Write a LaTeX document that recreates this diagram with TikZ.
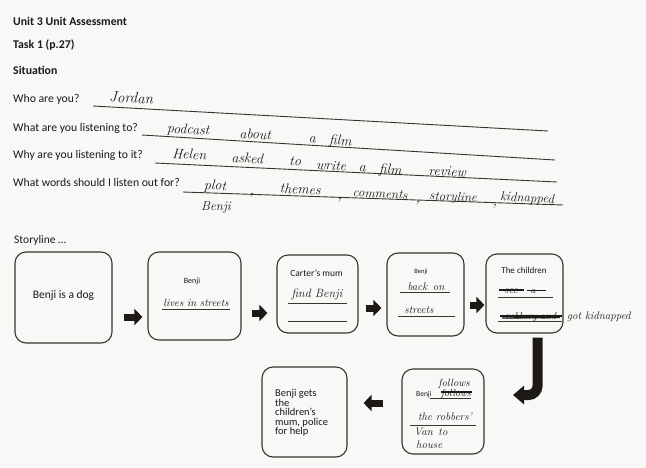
\documentclass[tikz,border=0pt]{standalone}
\usepackage{fontspec}
\setsansfont{Carlito}
\usetikzlibrary{arrows.meta,calc}
\definecolor{ink}{HTML}{1C1917}
\definecolor{pen}{HTML}{3B332D}
\definecolor{paper}{HTML}{F8F8F7}
\begin{document}
\begin{tikzpicture}[x=1pt,y=-1pt,
  prt/.style={font=\sffamily\fontsize{#1}{#1}\selectfont, text=ink, inner sep=0pt, anchor=base west},
  prtc/.style={prt=#1, anchor=base},
  hdr/.style={prt=11.5, font=\sffamily\bfseries\fontsize{11.8}{11.8}\selectfont},
  hw/.style={font=\rmfamily\itshape\fontsize{#1}{#1}\selectfont, text=ink, inner sep=0pt, anchor=base, rotate=-3},
  hwb/.style={font=\rmfamily\itshape\fontsize{#1}{#1}\selectfont, text=ink, inner sep=0pt, anchor=base},
  rule/.style={draw=pen, line width=0.9pt},
  strike/.style={draw=ink, line width=1.3pt},
  card/.style n args={2}{draw=pen, line width=1.1pt, rounded corners=11pt, minimum width=#1, minimum height=#2, inner sep=0pt},
  blk/.style={draw=ink, line width=7pt, -{Triangle[length=8pt,width=16pt]}},
  bent/.style={draw=ink, line width=10pt, rounded corners=9pt, -{Triangle[length=11pt,width=18pt]}}
]
\fill[paper] (0,0) rectangle (646,467);
\useasboundingbox (0,0) rectangle (646,467);

% header
\node[hdr] (h1) at (13,25) {Unit 3 Unit Assessment};
\node[hdr] (h2) at (13,48) {Task 1 (p.27)};
\node[hdr] (h3) at (13,74) {Situation};
\node[prt=11.7] (q1) at (13,102) {Who are you?};
\node[prt=11.7] (q2) at (13,131) {What are you listening to?};
\node[prt=11.7] (q3) at (13,158) {Why are you listening to it?};
\node[prt=11.7] (q4) at (13,186) {What words should I listen out for?};

% answer lines
\coordinate (l1a) at (93,106);  \coordinate (l1b) at (548,131);
\coordinate (l2a) at (142,135); \coordinate (l2b) at (555,160);
\coordinate (l3a) at (155,163); \coordinate (l3b) at (557,182);
\coordinate (l4a) at (183,192); \coordinate (l4b) at (563,205);
\draw[rule] (l1a) -- (l1b);
\draw[rule] (l2a) -- (l2b);
\draw[rule] (l3a) -- (l3b);
\draw[rule] (l4a) -- (l4b);

% handwritten answers
\node[hw=15] (w1) at (131,103) {Jordan};
\node[hw=14] (w2) at (188,134) {podcast};
\node[hw=14] (w3) at (255,139) {about};
\node[hw=14] (w4) at (312,143) {a};
\node[hw=14] (w5) at (340,145) {film};
\node[hw=14] (w6) at (189,159) {Helen};
\node[hw=14] (w7) at (247,163) {asked};
\node[hw=14] (w8) at (295,166) {to};
\node[hw=14] (w9) at (331,170) {write};
\node[hw=14] (w10) at (362,172) {a};
\node[hw=14] (w11) at (390,174) {film};
\node[hw=14] (w12) at (447,176) {review};
\node[hw=14] (w13) at (215,190) {plot};
\node[hw=14] (w14) at (252,195) {,};
\node[hw=14] (w15) at (300,194) {themes};
\node[hw=14] (w16) at (340,200) {,};
\node[hw=13] (w17) at (380,198) {comments};
\node[hw=14] (w18) at (418,203) {,};
\node[hw=13] (w19) at (453,201) {storyline};
\node[hw=14] (w20) at (495,206) {,};
\node[hw=13] (w21) at (527,202) {kidnapped};
\node[hwb=13] (w22) at (216,210) {Benji};

\node[prt=11.5] (st) at (14,243) {Storyline \dots};

% cards
\node[card={97pt}{91pt}] (b1) at (63.5,297.5) {};
\node[card={93pt}{88pt}] (b2) at (194.5,296) {};
\node[card={81pt}{78pt}] (b3) at (317.5,294) {};
\node[card={77pt}{83pt}] (b4) at (425.5,294.5) {};
\node[card={77pt}{79pt}] (b5) at (524.5,293.5) {};
\node[card={85pt}{90pt}] (b6) at (304.5,412) {};
\node[card={82pt}{85pt}] (b7) at (443,411.5) {};

% card 1
\node[prtc=11.5] (t1) at (63.5,298) {Benji is a dog};
% card 2
\node[prtc=8] (t2a) at (192,283) {Benji};
\node[hwb=10.5] (t2b) at (196,306) {lives in streets};
\draw[rule] (162,309) -- (230,309);
% card 3
\node[prtc=9.5] (t3a) at (316.5,276) {Carter's mum};
\node[hwb=12] (t3b) at (317,297) {find Benji};
\draw[rule] (288,303) -- (347,303);
\draw[rule] (288,321) -- (347,321);
% card 4
\node[prtc=6.5] (t4a) at (421,273) {Benji};
\node[hwb=11] (t4b) at (426,290) {back\enspace on};
\draw[rule] (400,292) -- (450,292);
\node[hwb=11] (t4c) at (419,313) {streets};
\draw[rule] (398,316) -- (455,316);
% card 5
\node[prtc=9] (t5a) at (524,273) {The children};
\node[hwb=11] (t5b) at (511,293) {see};
\node[hwb=9] (t5c) at (533,293) {a};
\draw[strike] (499,290) -- (524,290);
\draw[strike] (527,290.5) -- (546,290.5);
\draw[rule] (498,297) -- (553,297);
\node[hwb=10] (t5d) at (531,319) {robbery and};
\draw[strike, line width=2pt] (500,315.5) -- (562,315.5);
\draw[strike] (502,318) -- (560,317.5);
\draw[rule] (498,321) -- (562,321);
\node[hwb=11, anchor=base west] (t5e) at (567,319) {got kidnapped};
% card 6
\node[prt=10.5, align=left, anchor=north west, font=\sffamily\fontsize{10.5}{9.6}\selectfont] (t6) at (275,389) {Benji gets\\the\\children’s\\mum, police\\for help};
% card 7
\node[hwb=10.5] (t7a) at (454,386) {follows};
\node[prt=7.5] (t7b) at (416,396) {Benji};
\node[hwb=10] (t7c) at (456,396) {follows};
\draw[strike, line width=1.6pt] (441,392) -- (472,392);
\draw[rule] (430,398) -- (471,398);
\node[hwb=11] (t7d) at (445,420) {the robbers'};
\draw[rule] (410,425) -- (476,425);
\node[hwb=11, anchor=base west] (t7e) at (414,435) {Van\enspace to};
\node[hwb=11, anchor=base west] (t7f) at (416,448) {house};

% arrows
\draw[blk, shorten <=11pt, shorten >=5pt] (b1.east |- 0,317) -- (b2.west |- 0,317);
\draw[blk, shorten <=10pt, shorten >=9pt] (b2.east |- 0,313) -- (b3.west |- 0,313);
\draw[blk, shorten <=7pt, shorten >=5pt] (b3.east |- 0,308) -- (b4.west |- 0,308);
\draw[blk, shorten <=5pt, shorten >=1pt] (b4.east |- 0,305) -- (b5.west |- 0,305);
\coordinate (btip) at (513,395);
\draw[bent] ($(b5.south)+(13,4)$) |- (btip);
\draw[blk, shorten <=18pt, shorten >=16pt] (b7.west |- 0,403) -- (b6.east |- 0,403);
\end{tikzpicture}
\end{document}
